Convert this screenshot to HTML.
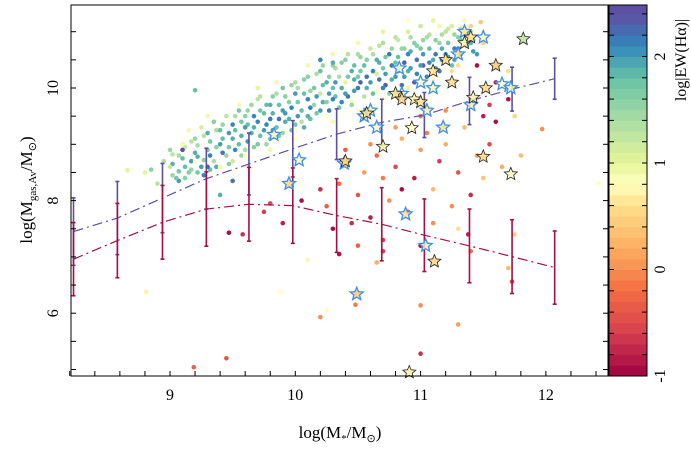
<!DOCTYPE html>
<html><head><meta charset="utf-8">
<style>
html,body{margin:0;padding:0;background:#fff;}
svg{display:block;font-family:"Liberation Serif",serif;}
</style></head>
<body>
<svg id="chart" width="691" height="453" viewBox="0 0 691 453" xmlns="http://www.w3.org/2000/svg">
<rect width="691" height="453" fill="#fff"/>
<g id="dots"></g>
<g id="lines"></g>
<g id="stars"></g>
<g id="axes"></g>
<g id="cbar"></g>
<text x="340" y="438" font-size="17" text-anchor="middle">log(M<tspan font-size="11" dy="4">*</tspan><tspan dy="-4">/M</tspan><tspan font-size="11" dy="4">⊙</tspan><tspan dy="-4">)</tspan></text>
<text transform="translate(32,190) rotate(-90)" font-size="17" text-anchor="middle">log(M<tspan font-size="11" dy="4">gas,Av</tspan><tspan dy="-4">/M</tspan><tspan font-size="11" dy="4">⊙</tspan><tspan dy="-4">)</tspan></text>
<text transform="translate(686,60) rotate(-90)" font-size="16" text-anchor="middle">log|EW(Hα)|</text>
</svg>
<script>
const xTicks=[9,10,11,12];
const yTicks=[6,8,10];
const cTicks=[-1,0,1,2];
const binX=[8.23,8.58,8.94,9.29,9.63,9.98,10.33,10.69,11.03,11.39,11.73,12.07];
const blueHi=[8.05,8.34,8.66,8.93,9.2,9.42,9.63,9.8,9.92,10.19,10.37,10.53];
const blueLo=[6.85,7.04,7.43,7.85,8.1,8.42,8.73,8.98,9.12,9.35,9.59,9.8];
const redHi=[7.61,7.95,8.27,8.51,8.59,8.58,8.39,8.23,8.03,7.85,7.66,7.46];
const redLo=[6.31,6.63,6.96,7.19,7.28,7.24,7.08,6.93,6.74,6.54,6.35,6.16];
const dotX=[8.8,8.85,8.9,8.95,9.0,9.0,9.05,9.1,9.1,9.15,9.2,9.2,9.25,9.25,9.3,9.3,9.35,9.35,9.4,9.4,9.45,9.45,9.5,9.5,9.5,9.55,9.55,9.6,9.6,9.6,9.65,9.65,9.7,9.7,9.7,9.75,9.75,9.8,9.8,9.8,9.85,9.85,9.9,9.9,9.9,9.95,9.95,10.0,10.0,10.0,10.05,10.05,10.1,10.1,10.1,10.15,10.15,10.2,10.2,10.2,10.25,10.25,10.3,10.3,10.3,10.35,10.35,10.4,10.4,10.4,10.45,10.45,10.5,10.5,10.5,10.55,10.55,10.6,10.6,10.6,10.65,10.65,10.7,10.7,10.7,10.75,10.75,10.8,10.8,10.8,10.85,10.85,10.9,10.9,10.9,10.95,10.95,11.0,11.0,11.0,11.05,11.05,11.1,11.1,11.15,11.15,11.2,11.2,11.25,11.25,11.3,11.3,11.35,11.4,11.4,11.45,11.5,
8.66,9.1,9.2,9.4,9.6,9.8,10.0,10.3,10.5,10.7,10.9,11.1,11.3,11.5,9.3,9.7,10.1,10.5,10.9,11.48,
9.2,9.3,9.1,9.4,9.5,10.2,10.3,
9.47,9.58,9.75,9.8,9.9,10.05,10.2,10.25,10.3,10.35,10.45,10.5,10.55,10.6,10.65,10.7,10.75,10.8,10.85,10.9,10.95,11.0,11.0,11.05,11.1,11.15,11.2,11.25,11.3,11.35,11.4,11.45,11.5,11.5,11.55,11.6,11.65,11.7,11.75,11.8,11.55,11.6,11.45,11.7,11.75,11.97,10.4,10.6,10.8,11.0,11.2,10.85,10.7,11.1,11.3,11.4,
8.81,9.88,10.2,10.25,10.48,11.0,11.3,9.19,9.45,11.0,12.42,10.1,11.7,11.73,11.38,10.65,10.7,10.5,10.35];
const dotY=[8.5,8.55,8.3,8.7,8.6,8.9,8.4,8.75,9.0,8.5,8.85,9.1,8.6,9.3,8.9,9.2,8.7,9.4,9.0,9.25,8.8,9.5,9.1,9.35,8.7,9.6,9.0,9.3,9.5,8.9,9.2,9.7,9.4,9.0,9.8,9.55,9.25,9.7,9.1,9.45,9.9,9.3,9.6,9.2,10.0,9.45,9.75,9.35,9.9,10.1,9.6,9.4,9.8,10.2,9.5,10.0,9.7,10.3,9.6,9.9,10.1,9.75,10.4,9.8,10.0,10.2,9.65,10.5,9.9,10.1,10.3,9.7,10.6,10.0,10.2,9.85,10.4,10.7,10.1,9.6,10.5,10.25,10.8,10.0,10.35,10.6,9.9,10.9,10.2,10.45,10.7,10.05,11.0,10.3,10.6,10.8,10.1,11.1,10.4,10.7,10.9,10.2,11.2,10.5,10.8,10.3,11.0,10.6,11.1,10.4,10.9,10.7,11.2,10.8,11.0,10.6,11.0,
8.54,9.0,8.7,8.6,8.8,8.9,9.1,9.4,9.6,9.8,10.0,10.2,10.4,10.8,9.5,10.0,10.4,10.8,11.2,11.17,
9.96,8.6,8.9,8.1,8.35,10.5,10.45,
7.43,7.4,7.8,7.95,7.6,8.0,8.2,7.9,7.5,8.3,7.6,8.1,8.5,7.7,8.8,7.3,8.0,8.6,9.1,7.8,8.4,8.9,7.2,9.2,8.2,8.7,9.0,7.9,8.5,9.3,8.1,8.8,9.5,8.4,9.0,9.4,8.6,9.8,7.4,8.8,9.7,10.1,10.4,10.3,9.5,9.27,8.9,9.0,9.3,9.5,9.6,8.2,8.4,7.6,7.5,7.1,
6.38,6.38,5.93,6.05,6.15,6.14,5.8,5.04,5.2,5.28,8.31,6.95,6.8,6.56,7.4,6.9,7.1,7.2,7.05];
const dotC=[1.0,1.6,1.3,1.4,1.2,1.5,1.7,1.8,1.3,1.6,1.9,1.5,2.0,1.1,1.7,1.9,1.4,1.6,2.0,1.8,1.5,1.3,1.9,2.1,1.2,1.7,1.8,2.0,1.6,1.4,1.9,1.5,2.1,1.7,1.3,1.8,2.0,1.9,1.6,2.2,1.4,1.8,2.0,1.5,1.7,1.9,1.6,1.7,2.0,1.4,1.8,1.3,2.1,1.6,1.9,1.7,1.5,1.8,2.0,1.2,1.9,1.6,1.5,2.1,1.8,1.4,1.7,1.6,2.0,1.0,1.9,1.5,1.4,2.2,1.7,1.3,1.8,1.2,2.0,1.5,1.9,1.1,1.4,2.1,1.7,2.2,1.6,1.3,2.0,1.8,1.5,2.2,1.1,1.9,2.1,1.6,2.3,1.2,2.0,1.7,1.4,2.1,1.0,1.9,1.5,2.2,1.3,2.0,1.1,1.8,1.6,2.1,0.9,1.9,1.4,2.0,0.8,
1.0,0.9,0.8,0.9,0.8,0.9,0.8,0.9,0.8,0.9,0.7,0.8,0.6,0.5,0.9,1.0,0.9,0.9,0.8,0.4,
1.8,2.3,2.4,1.9,2.2,2.1,1.9,
-0.9,-0.7,-0.6,-0.5,-0.8,-0.9,-0.7,-0.3,-0.9,-0.2,-0.7,-0.4,0.1,-0.8,-0.2,-0.6,0.0,-0.5,0.2,-0.3,-0.8,0.1,-0.9,-0.1,0.3,-0.6,0.2,0.0,-0.4,0.3,-0.7,0.1,-0.8,0.4,-0.5,-0.9,0.2,-0.9,0.5,0.3,-0.6,-0.8,-0.9,0.6,0.5,0.0,-0.3,0.0,0.1,-0.2,0.0,-0.9,-0.1,0.0,0.6,-0.2,
0.7,0.8,0.0,0.8,-0.1,0.0,0.1,-0.3,-0.4,-0.7,0.8,0.9,0.3,-0.5,-0.8,0.2,-0.6,-0.3,-0.9];
const cloudX=[9.02,9.02,9.02,9.07,9.07,9.07,9.12,9.12,9.12,9.17,9.17,9.17,9.22,9.22,9.22,9.27,9.27,9.27,9.32,9.32,9.32,9.37,9.37,9.37,9.42,9.42,9.42,9.47,9.47,9.47,9.52,9.52,9.52,9.57,9.57,9.57,9.62,9.62,9.62,9.67,9.67,9.67,9.72,9.72,9.72,9.77,9.77,9.77,9.82,9.82,9.82,9.87,9.87,9.87,9.92,9.92,9.92,9.97,9.97,9.97,10.02,10.02,10.02,10.07,10.07,10.07,10.12,10.12,10.12,10.17,10.17,10.17,10.22,10.22,10.22,10.27,10.27,10.27,10.32,10.32,10.32,10.37,10.37,10.37,10.42,10.42,10.42,10.47,10.47,10.47,10.52,10.52,10.52,10.57,10.57,10.57,10.62,10.62,10.62,10.67,10.67,10.67,10.72,10.72,10.72,10.77,10.77,10.77,10.82,10.82,10.82,10.87,10.87,10.87,10.92,10.92,10.92,10.97,10.97,10.97,11.02,11.02,11.02,11.07,11.07,11.07,11.12,11.12,11.12,11.17,11.17,11.17,11.22,11.22,11.22,11.27,11.27,11.27,11.32,11.32,11.32,11.37,11.37,11.42,11.42,
9.15,9.35,9.55,9.85,10.0,10.25,10.45,10.65,10.85,11.05,11.25,11.15,11.4,10.3,10.7];
const cloudY=[8.45,8.65,8.82,8.52,8.8,8.35,8.6,8.95,8.4,8.7,8.55,9.05,8.5,8.78,8.98,8.72,9.15,8.45,8.8,9.05,8.55,8.6,8.95,9.25,8.85,9.1,9.35,8.95,9.2,8.65,9.25,8.9,9.5,8.8,9.15,9.4,9.05,9.35,9.6,8.95,9.5,9.3,9.15,9.6,9.85,9.35,9.0,9.7,9.55,9.25,9.85,9.15,9.7,9.45,9.4,9.85,9.55,9.25,9.65,10.05,9.5,9.75,10.0,9.3,9.9,10.15,9.65,9.95,9.45,9.55,9.85,10.25,9.75,10.05,10.4,9.6,10.2,9.9,9.85,10.1,10.35,9.75,10.0,10.45,10.2,9.85,10.6,9.95,10.4,10.15,10.1,10.3,10.55,10.0,10.5,10.2,10.3,10.6,9.9,10.15,10.45,10.75,10.25,10.55,10.05,10.4,10.7,10.15,10.3,10.55,10.85,10.45,10.7,10.2,10.35,10.65,10.9,10.5,10.75,10.25,10.6,10.85,10.4,10.45,10.7,10.95,10.6,10.85,10.35,10.7,10.95,10.5,10.55,10.8,11.05,10.7,10.95,10.5,10.85,11.05,10.6,10.75,10.95,10.85,10.65,
9.25,9.4,9.7,10.1,9.25,9.5,9.75,9.95,10.05,10.15,10.3,11.1,11.1,10.6,11.0];
const cloudC=[1.5,1.9,1.3,1.7,1.4,2.0,1.8,1.2,1.6,2.0,1.5,1.3,1.7,1.9,1.4,1.6,1.3,2.1,2.1,1.7,1.8,1.9,1.6,1.4,2.2,1.8,1.5,1.7,2.0,1.6,1.8,2.1,1.4,1.5,1.9,1.7,2.0,1.8,1.5,1.6,2.1,1.9,1.8,1.7,1.3,2.1,1.5,1.8,1.9,2.0,1.6,1.7,1.8,2.2,1.9,1.6,2.0,1.8,2.1,1.5,2.0,1.7,1.4,1.9,1.8,1.6,2.1,1.5,1.8,1.7,2.0,1.4,1.9,1.8,1.5,2.2,1.6,2.0,1.8,2.0,1.4,2.1,1.9,1.6,1.7,2.2,1.3,2.0,1.8,1.9,2.3,1.7,1.5,1.9,1.6,2.2,2.1,1.4,1.8,2.2,1.9,1.3,2.0,1.7,2.3,2.2,1.5,1.9,2.1,1.8,1.2,2.3,1.6,2.0,2.0,1.9,1.4,2.2,1.6,2.1,2.0,1.5,2.3,2.1,1.8,1.3,2.2,1.6,2.0,1.9,1.4,2.1,2.0,1.7,1.2,2.1,1.5,1.9,1.8,1.3,2.0,1.9,1.6,1.7,2.0,
0.9,1.0,0.9,0.9,0.8,0.8,0.9,0.8,0.7,0.7,0.6,0.9,0.5,0.9,1.0];
const starX=[9.83,10.03,9.95,10.49,10.88,11.04,10.39,10.55,10.65,10.85,11.0,11.1,11.18,11.4,11.5,11.35,11.65,11.72,10.83,11.05,11.3,10.6,
10.4,10.57,10.7,10.8,10.85,10.95,11.0,10.93,11.1,11.2,11.35,11.4,11.42,11.5,11.6,11.72,11.82,11.11,10.91,11.25,11.52];
const starY=[9.17,8.72,8.3,6.34,7.76,7.2,8.66,9.5,9.3,9.9,10.1,10.0,9.3,9.7,10.9,11.0,10.07,10.0,10.35,9.6,10.6,9.6,
8.7,9.55,8.96,9.9,9.8,9.8,9.75,9.29,10.3,10.5,10.8,10.9,9.83,8.78,10.4,8.47,10.87,6.92,4.95,10.1,10.0];
const starC=[0.9,0.8,0.5,0.4,0.6,0.7,0.5,0.9,0.8,0.7,0.8,0.9,0.6,0.7,0.8,0.6,0.8,0.9,0.8,0.7,0.6,0.8,
0.5,0.6,0.7,0.6,0.5,0.7,0.6,0.8,0.6,0.5,0.7,0.6,0.7,0.5,0.4,0.8,1.3,0.5,0.7,0.6,0.5];
const starEdge=["b","b","b","b","b","b","b","b","b","b","b","b","b","b","b","b","b","b","b","b","b","b",
"k","k","k","k","k","k","k","k","k","k","k","k","k","k","k","k","k","k","k","k","k"];

const L=71,R=608,T=5,B=376;
const xS=v=>170+(v-9)*125.3;
const yS=v=>88-(v-10)*56.3;
const cS=v=>376-(v+1)*106.5;
const NS="http://www.w3.org/2000/svg";
function mk(tag,attrs,parent){const e=document.createElementNS(NS,tag);for(const k in attrs)e.setAttribute(k,attrs[k]);parent.appendChild(e);return e;}
const stops=[[-1,[158,1,66]],[-0.6,[213,62,79]],[-0.2,[244,109,67]],[0.2,[253,174,97]],[0.6,[254,224,139]],[0.8,[255,255,191]],[1.0,[230,245,152]],[1.4,[171,221,164]],[1.8,[102,194,165]],[2.1,[50,136,189]],[2.4,[94,79,162]],[3,[94,79,162]]];
function cmap(v){v=Math.max(-1,Math.min(2.99,v));for(let i=0;i<stops.length-1;i++){const[a,ca]=stops[i],[b,cb]=stops[i+1];if(v>=a&&v<=b){const t=(v-a)/(b-a);return`rgb(${ca.map((c,j)=>Math.round(c+(cb[j]-c)*t)).join(',')})`;}}return"#5e4fa2";}

const clip=mk('clipPath',{id:'pc'},document.getElementById('chart'));
mk('rect',{x:L,y:T,width:R-L,height:B-T},clip);

const dots=document.getElementById('dots');
dots.setAttribute('clip-path','url(#pc)');
function drawDots(X,Y,C){
  for(let i=0;i<X.length;i++){
    const c=mk('circle',{cx:xS(X[i]),cy:yS(Y[i]),r:2.3,fill:cmap(C[i])},dots);
    
    
  }
}
drawDots(cloudX,cloudY,cloudC);
drawDots(dotX,dotY,dotC);

const lines=document.getElementById('lines');
function polyline(hi,lo,color,name){
  let d='';
  for(let i=0;i<binX.length;i++){d+=(i?'L':'M')+xS(binX[i])+','+yS((hi[i]+lo[i])/2);}
  const p=mk('path',{d:d,fill:'none',stroke:color,'stroke-width':1.2,'stroke-dasharray':'10,4,2,4'},lines);
  
  
  for(let i=0;i<binX.length;i++){
    const g=mk('g',{stroke:color,'stroke-width':1.6},lines);
    
    
    const x=xS(binX[i]);
    mk('line',{x1:x,x2:x,y1:yS(hi[i]),y2:yS(lo[i])},g);
    mk('line',{x1:x-2,x2:x+2,y1:yS(hi[i]),y2:yS(hi[i])},g);
    mk('line',{x1:x-2,x2:x+2,y1:yS(lo[i]),y2:yS(lo[i])},g);
  }
}
polyline(blueHi,blueLo,'#5e4fa2','blue');
polyline(redHi,redLo,'#a50f45','red');

const stars=document.getElementById('stars');
function starPath(cx,cy,r){let d='';for(let k=0;k<10;k++){const a=-Math.PI/2+k*Math.PI/5;const rr=k%2?r*0.45:r;d+=(k?'L':'M')+(cx+rr*Math.cos(a)).toFixed(1)+','+(cy+rr*Math.sin(a)).toFixed(1);}return d+'Z';}
for(let i=0;i<starX.length;i++){
  const s=mk('path',{d:starPath(xS(starX[i]),yS(starY[i]),6.8),fill:cmap(starC[i]),stroke:starEdge[i]==='b'?'#3d8ef0':'#222','stroke-width':starEdge[i]==='b'?1.3:0.8,'fill-opacity':0.85},stars);
  
  
}

const axes=document.getElementById('axes');
mk('rect',{x:L,y:T,width:R-L,height:B-T,fill:'none',stroke:'#000','stroke-width':1},axes);
for(let v=8.2;v<=12.5;v+=0.2){const x=xS(v);mk('line',{x1:x,x2:x,y1:B,y2:B-5,stroke:'#000'},axes);}
for(let v=5;v<=11.4;v+=0.5){const y=yS(v);mk('line',{x1:L,x2:L+5,y1:y,y2:y,stroke:'#000'},axes);mk('line',{x1:R,x2:R-5,y1:y,y2:y,stroke:'#000'},axes);}
xTicks.forEach(v=>{const t=mk('text',{x:xS(v),y:400,'font-size':16,'text-anchor':'middle'},axes);t.textContent=v;
  
  });
yTicks.forEach(v=>{const t=mk('text',{transform:`translate(58,${yS(v)}) rotate(-90)`,'font-size':16,'text-anchor':'middle'},axes);t.textContent=v;
  
  });

const cb=document.getElementById('cbar');
const CL=609,CR=647;
for(let v=-1;v<2.55;v+=0.1){const y1=Math.max(T,cS(v+0.1)),y2=cS(v);mk('rect',{x:CL,y:y1,width:CR-CL,height:y2-y1+0.5,fill:cmap(v+0.05)},cb);}
mk('rect',{x:CL,y:T,width:CR-CL,height:B-T,fill:'none',stroke:'#000'},cb);
for(let v=-0.8;v<2.55;v+=0.2){const y=cS(v);mk('line',{x1:CL,x2:CL+5,y1:y,y2:y,stroke:'#000'},cb);mk('line',{x1:CR,x2:CR-5,y1:y,y2:y,stroke:'#000'},cb);}
cTicks.forEach(v=>{const t=mk('text',{transform:`translate(665,${cS(v)}) rotate(-90)`,'font-size':16,'text-anchor':'middle'},cb);t.textContent=v;
  
  });
</script>
</body></html>
